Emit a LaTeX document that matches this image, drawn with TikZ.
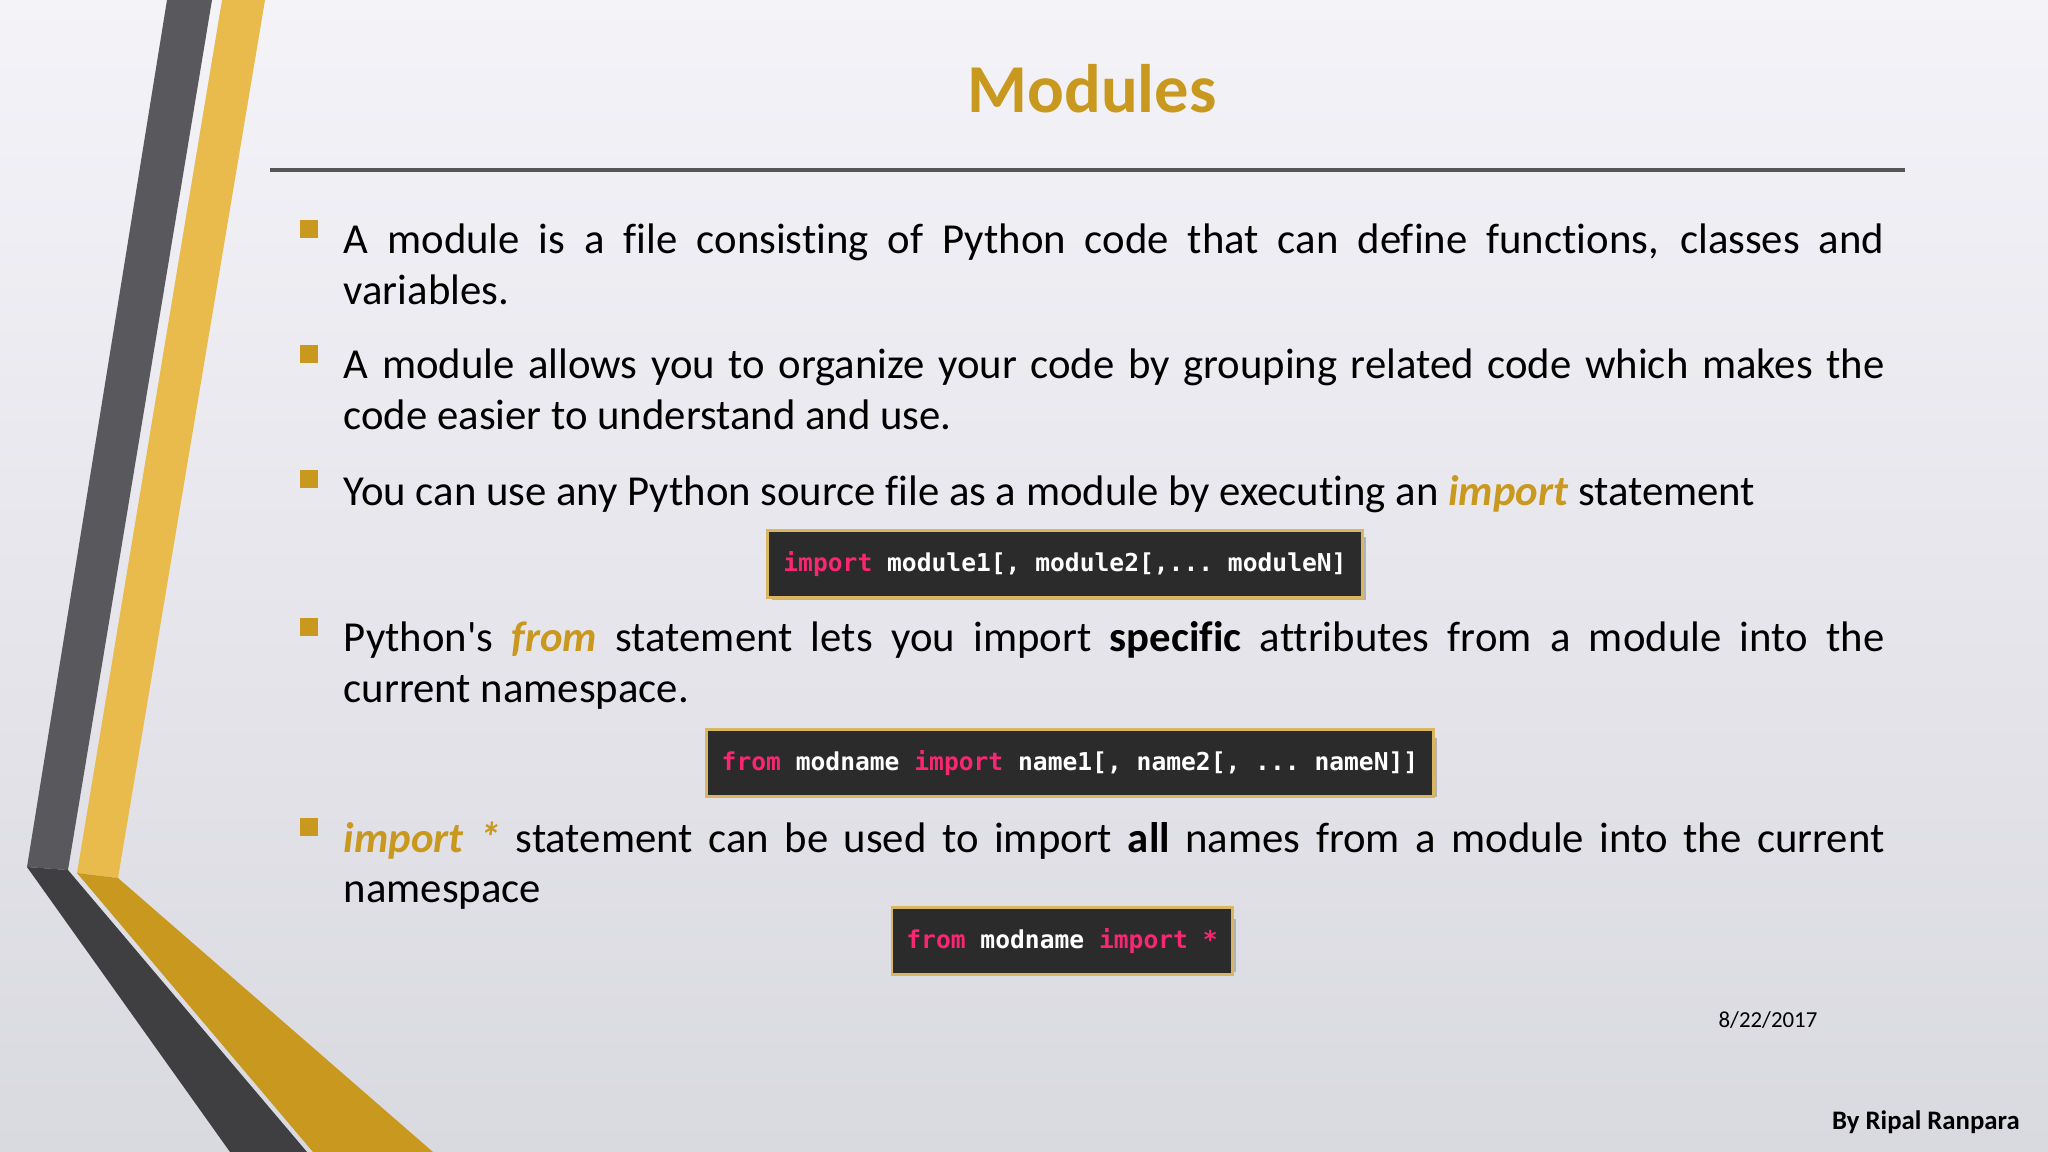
\documentclass[tikz,border=0pt]{standalone}
\usepackage{fontspec}
\setmainfont[Ligatures=NoCommon]{Carlito}
\setmonofont{DejaVu Sans Mono}
\hyphenpenalty=10000
\exhyphenpenalty=10000
\definecolor{gold}{HTML}{C9981F}
\definecolor{goldl}{HTML}{E9BB4C}
\definecolor{darkg}{HTML}{59585C}
\definecolor{darkd}{HTML}{3F3F41}
\definecolor{kw}{HTML}{F92672}
\definecolor{codebg}{HTML}{2B2B2B}
\definecolor{rulec}{HTML}{555555}
\definecolor{bgtop}{HTML}{F4F3F8}
\definecolor{bgbot}{HTML}{D9D9E0}
\newcommand{\kwd}[1]{\textcolor{kw}{#1}}
\newcommand{\gi}[1]{\textcolor{gold}{\textbf{\textit{#1}}}}
\begin{document}
\begin{tikzpicture}[x=0.01cm,y=-0.01cm,
  para/.style={anchor=base west,inner sep=0pt,text width=15.4cm,align=justify,font=\fontsize{12.15}{14.3}\selectfont},
  bul/.style={fill=gold,minimum size=0.17cm,inner sep=0pt},
  code/.style={fill=codebg,draw=gold!70!white,line width=0.8pt,text=white,font=\ttfamily\bfseries\fontsize{7}{8}\selectfont,inner xsep=4pt,inner ysep=6pt},
  shadow/.style={fill=black!30}]
\shade[top color=bgtop,bottom color=bgbot] (0,0) rectangle (2048,1152);
\useasboundingbox (0,0) rectangle (2048,1152);
% decoration
\fill[darkg] (167,0)--(212,0)--(68,870)--(27,867)--cycle;
\fill[darkd] (27,867)--(68,870)--(307,1152)--(230,1152)--cycle;
\fill[goldl] (222,0)--(265,0)--(118,878)--(77,873)--cycle;
\fill[gold] (77,873)--(118,878)--(433,1152)--(313,1152)--cycle;
% title
\node[font=\bfseries\fontsize{19.5}{23}\selectfont,text=gold] (title) at (1092,89) {Modules};
\coordinate (r1) at (270,170); \coordinate (r2) at (1905,170);
\draw[rulec,line width=1.2pt] (r1)--(r2);
% bullets
\foreach \n/\y in {b1/229,b2/354,b3/479,b4/627,b5/827}{\node[bul] (\n) at (309,\y) {};}
\node[para] (p1) at (343,254) {A module is a file consisting of Python code that can define functions, classes and\linebreak variables.};
\node[para] (p2) at (343,379) {A module allows you to organize your code by grouping related code which makes the\linebreak code easier to understand and use.};
\node[para] (p3) at (343,505) {You can use any Python source file as a module by executing an \gi{import} statement};
\node[para] (p4) at (343,652) {Python\textquotesingle s \gi{from} statement lets you import \textbf{specific} attributes from a module into the\linebreak current namespace.};
\node[para] (p5) at (343,852) {\gi{import *} statement can be used to import \textbf{all} names from a module into the current namespace};
% code boxes
\fill[shadow] (772,537) rectangle (1366,600);
\node[code,minimum width=5.94cm,minimum height=0.63cm] (c1) at (1065,564) {\kwd{import} module1[, module2[,... moduleN]};
\fill[shadow] (711,738) rectangle (1437,797);
\node[code,minimum width=7.26cm,minimum height=0.59cm] (c2) at (1070,763) {\kwd{from} modname \kwd{import} name1[, name2[, ... nameN]]};
\fill[shadow] (896,919) rectangle (1236,972);
\node[code,minimum width=3.40cm,minimum height=0.53cm] (c3) at (1062,941) {\kwd{from} modname \kwd{import} \kwd{*}};
% footer
\node[font=\fontsize{6.5}{8}\selectfont] (date) at (1768,1020) {8/22/2017};
\node[anchor=east,font=\bfseries\fontsize{7.6}{9}\selectfont] (auth) at (2032,1122) {By Ripal Ranpara};
\end{tikzpicture}
\end{document}
